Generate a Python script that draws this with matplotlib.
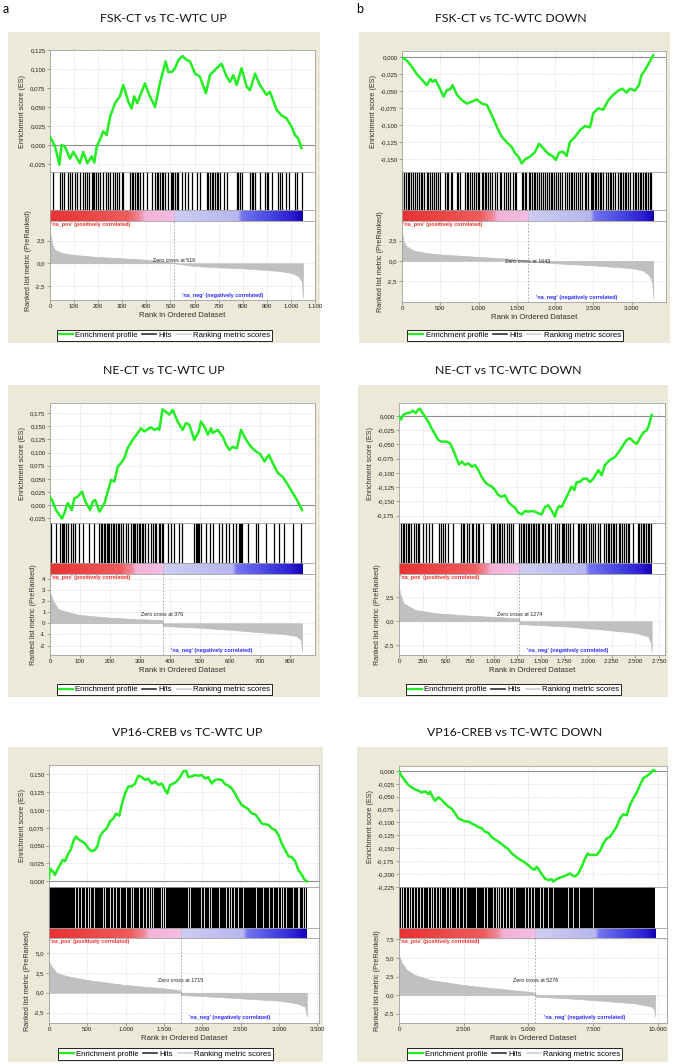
import numpy as np
import matplotlib
matplotlib.use('Agg')
import matplotlib.pyplot as plt
from matplotlib.colors import LinearSegmentedColormap
from matplotlib.lines import Line2D
from matplotlib.patches import Rectangle

plt.rcParams['font.family'] = ['Liberation Sans', 'DejaVu Sans']

# ---------------- data ----------------
titles = ['FSK-CT vs TC-WTC UP', 'FSK-CT vs TC-WTC DOWN',
          'NE-CT vs TC-WTC UP', 'NE-CT vs TC-WTC DOWN',
          'VP16-CREB vs TC-WTC UP', 'VP16-CREB vs TC-WTC DOWN']
n_genes = [1050, 3283, 842, 2673, 3361, 9897]
zero_cross = [516, 1643, 376, 1274, 1715, 5276]

# panel a: FSK-CT UP
a_es_x = [0, 21, 39, 48, 62, 83, 97, 124, 138, 155, 173, 184, 194, 207, 221, 235, 249, 270, 290, 304,
          325, 339, 349, 362, 394, 412, 436, 456, 480, 491, 505, 519, 533, 550, 567, 581, 602, 622, 647, 664,
          685, 712, 733, 747, 761, 775, 795, 816, 830, 851, 871, 899, 913, 941, 961, 982, 1003, 1017, 1030, 1044]
a_es_y = [0.011, -0.002, -0.026, 0.0, -0.002, -0.018, -0.009, -0.024, -0.009, -0.024,
          -0.015, -0.023, -0.002, 0.007, 0.018, 0.013, 0.037, 0.055, 0.064, 0.079,
          0.057, 0.048, 0.064, 0.055, 0.081, 0.066, 0.050, 0.081, 0.110, 0.096,
          0.096, 0.101, 0.112, 0.117, 0.112, 0.110, 0.094, 0.090, 0.068, 0.092,
          0.099, 0.107, 0.090, 0.083, 0.092, 0.079, 0.101, 0.077, 0.072, 0.094,
          0.079, 0.066, 0.070, 0.046, 0.039, 0.035, 0.024, 0.013, 0.009, -0.004]
a_hits = [14, 41, 48, 58, 76, 83, 90, 104, 113, 124, 138, 145, 152, 163, 173, 177, 184, 191, 198, 207,
          221, 232, 242, 249, 263, 270, 279, 288, 297, 304, 332, 339, 346, 353, 360, 367, 373, 387, 401, 422,
          436, 443, 450, 456, 463, 470, 477, 491, 501, 508, 512, 519, 526, 533, 546, 560, 574, 588, 609, 622,
          650, 657, 664, 671, 678, 685, 692, 698, 705, 722, 733, 775, 781, 788, 795, 830, 837, 844, 851, 871,
          892, 899, 906, 920, 947, 954, 965, 979, 993, 1017, 1024, 1044]
a_met_x = [0, 10, 20, 50, 80, 150, 200, 300, 400, 500, 516, 600, 700, 800, 900, 950, 1000, 1030, 1045, 1050]
a_met_y = [3.4, 2.0, 1.5, 1.15, 1.0, 0.8, 0.7, 0.55, 0.4, 0.15, 0.0, -0.3, -0.45, -0.55, -0.75, -0.85,
           -1.05, -1.4, -2.0, -3.8]

# panel b: FSK-CT DOWN
b_es_x = [0, 65, 130, 196, 261, 326, 370, 400, 435, 487, 543, 587, 630, 661, 717, 783, 848, 913, 978, 1043,
          1109, 1174, 1239, 1304, 1370, 1435, 1478, 1522, 1565, 1609, 1674, 1739, 1791, 1848, 1913, 1978,
          2009, 2052, 2109, 2152, 2196, 2261, 2326, 2391, 2457, 2500, 2565, 2630, 2696, 2761, 2826, 2878,
          2935, 2978, 3043, 3096, 3130, 3174, 3239, 3283]
b_es_y = [0.0, -0.005, -0.014, -0.025, -0.033, -0.041, -0.032, -0.036, -0.033, -0.044,
          -0.058, -0.048, -0.047, -0.041, -0.055, -0.063, -0.068, -0.065, -0.062, -0.068,
          -0.070, -0.085, -0.102, -0.117, -0.125, -0.132, -0.141, -0.146, -0.156, -0.150,
          -0.146, -0.139, -0.127, -0.134, -0.142, -0.146, -0.151, -0.140, -0.139, -0.145,
          -0.124, -0.117, -0.107, -0.101, -0.103, -0.082, -0.075, -0.077, -0.063, -0.055,
          -0.049, -0.046, -0.052, -0.046, -0.049, -0.041, -0.026, -0.019, -0.006, 0.003]
b_hits = [4, 30, 48, 74, 96, 117, 148, 170, 191, 222, 248, 265, 291, 322, 343, 365, 387, 422, 439, 465,
          496, 561, 583, 604, 639, 657, 717, 735, 757, 822, 843, 865, 887, 909, 935, 961, 987, 1009, 1039,
          1061, 1083, 1104, 1126, 1148, 1170, 1213, 1248, 1278, 1300, 1335, 1357, 1387, 1409, 1452, 1474,
          1496, 1570, 1583, 1604, 1626, 1657, 1674, 1700, 1726, 1743, 1770, 1787, 1813, 1843, 1865, 1891,
          1917, 1943, 1965, 1987, 2017, 2039, 2061, 2091, 2126, 2161, 2178, 2204, 2222, 2248, 2278, 2300,
          2322, 2352, 2387, 2409, 2430, 2465, 2483, 2496, 2517, 2539, 2561, 2583, 2604, 2626, 2670, 2691,
          2713, 2735, 2757, 2778, 2822, 2843, 2865, 2887, 2909, 2930, 2952, 2974, 3017, 3039, 3061, 3083,
          3104, 3126, 3148, 3170, 3191, 3213, 3235, 3257]
b_met_x = [0, 20, 60, 150, 300, 500, 1000, 1500, 1643, 1643, 2000, 2500, 3000, 3150, 3230, 3270, 3283]
b_met_y = [3.6, 2.4, 1.8, 1.3, 1.0, 0.8, 0.5, 0.2, 0.05, -0.05, -0.3, -0.55, -0.9, -1.2, -1.8, -2.6, -4.6]

# panel c: NE-CT UP
c_es_x = [0, 9, 20, 31, 40, 48, 59, 67, 73, 81, 92, 107, 118, 134, 143, 151, 165, 182, 193, 204,
          215, 226, 237, 248, 259, 276, 293, 304, 315, 326, 337, 349, 360, 365, 376, 385, 399, 410, 426, 443,
          454, 465, 482, 497, 504, 516, 527, 538, 543, 560, 577, 588, 599, 610, 624, 638, 655, 671, 688, 702,
          716, 731, 744, 761, 777, 791, 808, 822, 833, 842]
c_es_y = [0.016, 0.007, -0.009, -0.018, -0.025, -0.015, 0.004, -0.003, -0.009, 0.013,
          0.016, 0.026, 0.007, -0.009, 0.007, 0.010, -0.012, 0.004, 0.026, 0.048,
          0.045, 0.073, 0.080, 0.089, 0.108, 0.124, 0.137, 0.146, 0.140, 0.144,
          0.148, 0.143, 0.146, 0.143, 0.182, 0.178, 0.172, 0.181, 0.159, 0.143,
          0.156, 0.153, 0.124, 0.140, 0.159, 0.149, 0.134, 0.146, 0.137, 0.143,
          0.130, 0.115, 0.105, 0.111, 0.108, 0.143, 0.124, 0.111, 0.102, 0.097,
          0.083, 0.096, 0.080, 0.061, 0.054, 0.042, 0.026, 0.013, 0.001, -0.009]
c_hits = [3, 20, 35, 39, 42, 48, 53, 59, 70, 78, 85, 98, 109, 131, 148, 165, 170, 174, 182, 185,
          189, 193, 198, 204, 209, 215, 220, 226, 232, 237, 245, 254, 259, 271, 276, 282, 285, 290, 296, 301,
          307, 312, 318, 326, 337, 343, 349, 354, 365, 367, 373, 376, 393, 404, 415, 432, 441, 480, 486, 490,
          494, 499, 504, 521, 535, 543, 563, 575, 588, 599, 610, 621, 630, 635, 638, 641, 660, 688, 694, 722,
          749, 766, 783, 811, 839]
c_met_x = [0, 9, 26, 60, 98, 200, 298, 376, 376, 500, 610, 700, 777, 822, 838, 842]
c_met_y = [2.8, 2.1, 1.3, 1.0, 0.75, 0.5, 0.36, 0.3, -0.24, -0.4, -0.6, -0.8, -0.95, -1.13, -1.5, -2.5]

# panel d: NE-CT DOWN
d_es_x = [0, 21, 46, 81, 116, 152, 176, 205, 222, 247, 275, 310, 346, 381, 416, 451, 504, 540, 575, 610,
          635, 663, 698, 733, 769, 804, 839, 874, 910, 945, 980, 1016, 1051, 1086, 1121, 1157, 1192, 1227,
          1262, 1298, 1333, 1368, 1403, 1439, 1474, 1509, 1544, 1580, 1615, 1650, 1668, 1693, 1721, 1756,
          1791, 1826, 1855, 1879, 1915, 1950, 1985, 2020, 2056, 2109, 2144, 2179, 2232, 2285, 2338, 2373,
          2408, 2444, 2479, 2514, 2549, 2585, 2620, 2645, 2673]
d_es_y = [-0.001, -0.006, 0.002, 0.005, 0.006, 0.009, 0.005, 0.011, 0.013, 0.006,
          -0.001, -0.010, -0.022, -0.032, -0.042, -0.045, -0.045, -0.048, -0.060, -0.075,
          -0.085, -0.080, -0.086, -0.083, -0.089, -0.086, -0.095, -0.107, -0.116, -0.121,
          -0.124, -0.130, -0.139, -0.142, -0.139, -0.151, -0.157, -0.161, -0.170, -0.173,
          -0.167, -0.168, -0.167, -0.168, -0.171, -0.173, -0.160, -0.157, -0.166, -0.177,
          -0.166, -0.158, -0.160, -0.148, -0.136, -0.124, -0.130, -0.116, -0.116, -0.110,
          -0.110, -0.116, -0.110, -0.095, -0.104, -0.086, -0.077, -0.072, -0.060, -0.051,
          -0.042, -0.039, -0.045, -0.049, -0.039, -0.029, -0.025, -0.016, 0.002]
d_hits = [21, 39, 56, 74, 92, 109, 127, 162, 180, 197, 215, 250, 286, 321, 349, 427, 444, 462, 490, 515,
          575, 656, 673, 691, 716, 744, 772, 786, 815, 832, 850, 885, 973, 991, 1008, 1033, 1054, 1068,
          1090, 1114, 1139, 1160, 1185, 1202, 1273, 1291, 1308, 1326, 1343, 1361, 1379, 1396, 1414, 1432,
          1449, 1467, 1484, 1509, 1527, 1548, 1573, 1590, 1608, 1654, 1668, 1696, 1724, 1738, 1749, 1767,
          1784, 1809, 1837, 1890, 1908, 1925, 1943, 1961, 1978, 2006, 2031, 2056, 2077, 2102, 2126, 2172,
          2190, 2208, 2225, 2243, 2260, 2278, 2296, 2324, 2338, 2359, 2384, 2401, 2419, 2437, 2472, 2525,
          2542, 2560, 2578, 2595, 2613, 2630, 2648, 2666]
d_met_x = [0, 10, 46, 169, 381, 733, 1086, 1274, 1274, 1791, 2144, 2497, 2637, 2666, 2673]
d_met_y = [3.66, 2.96, 1.9, 1.2, 0.85, 0.6, 0.42, 0.3, -0.28, -0.56, -0.85, -1.2, -1.6, -2.3, -3.2]

# panel e: VP16-CREB UP (hits nearly solid, so the white gaps are listed)
e_es_x = [0, 13, 48, 78, 109, 143, 178, 209, 252, 283, 317, 352, 383, 426, 470, 513, 557, 600, 630, 665,
          709, 752, 796, 839, 874, 917, 948, 991, 1035, 1078, 1122, 1165, 1209, 1252, 1296, 1339, 1383,
          1426, 1470, 1513, 1543, 1578, 1622, 1665, 1709, 1752, 1787, 1817, 1861, 1904, 1948, 1991, 2035,
          2078, 2122, 2165, 2209, 2252, 2296, 2339, 2383, 2426, 2470, 2513, 2557, 2600, 2643, 2687, 2730,
          2774, 2817, 2861, 2904, 2948, 2991, 3035, 3078, 3122, 3165, 3209, 3252, 3296, 3326, 3361]
e_es_y = [0.004, 0.018, 0.014, 0.009, 0.016, 0.023, 0.030, 0.028, 0.039, 0.044,
          0.056, 0.063, 0.059, 0.056, 0.053, 0.046, 0.042, 0.044, 0.049, 0.063,
          0.070, 0.074, 0.084, 0.088, 0.095, 0.092, 0.107, 0.123, 0.133, 0.133,
          0.137, 0.148, 0.146, 0.142, 0.144, 0.137, 0.140, 0.135, 0.137, 0.128,
          0.123, 0.135, 0.137, 0.140, 0.146, 0.154, 0.155, 0.146, 0.147, 0.149,
          0.148, 0.149, 0.144, 0.146, 0.137, 0.142, 0.143, 0.142, 0.136, 0.134,
          0.130, 0.123, 0.114, 0.107, 0.104, 0.101, 0.095, 0.094, 0.088, 0.081,
          0.080, 0.079, 0.074, 0.072, 0.065, 0.053, 0.044, 0.035, 0.034, 0.028,
          0.016, 0.009, 0.003, 0.000]
e_gaps = [343, 374, 417, 474, 504, 539, 591, 700, 735, 800, 830, 874, 926, 1004, 1070, 1100, 1178, 1222,
          1265, 1300, 1330, 1361, 1461, 1483, 1517, 1809, 1839, 1983, 2026, 2083, 2113, 2222, 2309, 2343,
          2374, 2417, 2461, 2526, 2700, 2787, 2874, 2917, 2983, 3026, 3057, 3091, 3178, 3243, 3265, 3317,
          3343]
e_met_x = [0, 35, 100, 230, 500, 1000, 1500, 1715, 1715, 2000, 2500, 3000, 3230, 3339, 3361]
e_met_y = [3.9, 3.3, 2.5, 2.1, 1.6, 0.97, 0.55, 0.3, -0.3, -0.42, -0.71, -1.0, -1.34, -1.76, -3.0]

# panel f: VP16-CREB DOWN
f_es_x = [0, 103, 232, 361, 490, 619, 747, 876, 941, 1031, 1134, 1198, 1289, 1392, 1521, 1649, 1778,
          1907, 2036, 2165, 2294, 2423, 2552, 2680, 2809, 2938, 3067, 3196, 3325, 3454, 3582, 3711, 3840,
          3969, 4098, 4227, 4356, 4485, 4613, 4742, 4871, 5000, 5129, 5232, 5322, 5412, 5515, 5644, 5773,
          5902, 5966, 6095, 6224, 6353, 6482, 6611, 6675, 6804, 6933, 7062, 7191, 7294, 7384, 7513, 7642,
          7771, 7899, 8028, 8157, 8286, 8415, 8544, 8673, 8802, 8930, 9059, 9188, 9317, 9446, 9575, 9704,
          9833, 9897]
f_es_y = [0.0, -0.010, -0.019, -0.027, -0.032, -0.036, -0.038, -0.042, -0.040, -0.040,
          -0.045, -0.040, -0.049, -0.058, -0.051, -0.056, -0.063, -0.069, -0.073, -0.082,
          -0.092, -0.095, -0.098, -0.098, -0.102, -0.105, -0.109, -0.111, -0.118, -0.120,
          -0.128, -0.133, -0.137, -0.142, -0.147, -0.152, -0.160, -0.165, -0.170, -0.174,
          -0.178, -0.183, -0.189, -0.192, -0.186, -0.192, -0.200, -0.209, -0.212, -0.210,
          -0.215, -0.210, -0.207, -0.205, -0.202, -0.199, -0.202, -0.205, -0.199, -0.186,
          -0.170, -0.160, -0.163, -0.163, -0.163, -0.155, -0.141, -0.131, -0.128, -0.118,
          -0.108, -0.092, -0.084, -0.086, -0.066, -0.053, -0.042, -0.027, -0.014, -0.010,
          -0.005, 0.002, 0.000]
f_gaps = [77, 168, 271, 374, 464, 593, 683, 812, 915, 1108, 1237, 1327, 1430, 1559, 1624, 1817, 1920,
          2010, 2204, 2332, 2461, 2590, 2977, 3299, 3389, 3621, 3750, 3814, 3905, 4008, 4137, 4265, 4394,
          4472, 4884, 4974, 5103, 5232, 5451, 5554, 5747, 5941, 6521, 6714, 6972, 7487]
f_met_x = [0, 103, 296, 619, 1263, 2500, 3711, 5000, 5276, 5276, 6546, 7835, 9124, 9768, 9871, 9897]
f_met_y = [5.4, 4.4, 3.4, 2.7, 2.0, 1.35, 0.9, 0.45, 0.3, -0.22, -0.45, -0.77, -1.13, -1.58, -2.0, -2.9]

# axis ranges / ticks
x_max = [1100, 3450, 885, 2814, 3520, 10360]
x_ticks = [list(range(0, 1101, 100)), list(range(0, 3001, 500)), list(range(0, 801, 100)),
           list(range(0, 2751, 250)), list(range(0, 3501, 500)), list(range(0, 10001, 2500))]
es_lim = [(-0.0355, 0.125), (-0.1686, 0.0093), (-0.0336, 0.194), (-0.188, 0.0229), (-0.008, 0.163),
          (-0.2253, 0.0097)]
es_ticks = [[-0.025, 0, 0.025, 0.05, 0.075, 0.1, 0.125],
            [-0.15, -0.125, -0.1, -0.075, -0.05, -0.025, 0],
            [-0.025, 0, 0.025, 0.05, 0.075, 0.1, 0.125, 0.15, 0.175],
            [-0.175, -0.15, -0.125, -0.1, -0.075, -0.05, -0.025, 0],
            [0, 0.025, 0.05, 0.075, 0.1, 0.125, 0.15],
            [-0.225, -0.2, -0.175, -0.15, -0.125, -0.1, -0.075, -0.05, -0.025, 0]]
met_lim = [(-4.06, 4.68), (-5.1, 4.95), (-2.84, 4.41), (-3.53, 4.95), (-3.82, 6.9), (-3.78, 7.7)]
met_ticks = [[-2.5, 0, 2.5], [-2.5, 0, 2.5], [-2, -1, 0, 1, 2, 3, 4], [-2.5, 0, 2.5],
             [-2.5, 0, 2.5, 5], [-2.5, 0, 2.5, 5, 7.5]]
met_dec = [1, 1, 0, 1, 1, 1]

es_x = [a_es_x, b_es_x, c_es_x, d_es_x, e_es_x, f_es_x]
es_y = [a_es_y, b_es_y, c_es_y, d_es_y, e_es_y, f_es_y]
hits = [a_hits, b_hits, c_hits, d_hits, None, None]
gaps = [None, None, None, None, e_gaps, f_gaps]
met_x = [a_met_x, b_met_x, c_met_x, d_met_x, e_met_x, f_met_x]
met_y = [a_met_y, b_met_y, c_met_y, d_met_y, e_met_y, f_met_y]

# ---------------- layout (pixels) ----------------
W, H = 675, 1064
layout = [
    dict(bg=(8, 32, 320, 343), x=(50, 315), y=(50, 172, 210, 221, 300), title=(163, 18), leg=(164.5, 335.5)),
    dict(bg=(359, 32, 670, 343), x=(402, 666), y=(51, 172, 210, 221, 302), title=(511, 18), leg=(515, 335.5)),
    dict(bg=(8, 385, 320, 697), x=(50, 315), y=(403, 523, 563, 574, 655), title=(164, 371), leg=(164.5, 689.5)),
    dict(bg=(358, 385, 668, 697), x=(399, 665), y=(403, 523, 563, 574, 655), title=(508, 371), leg=(513.5, 689.5)),
    dict(bg=(8, 747, 323, 1062), x=(49, 319), y=(765, 887, 928, 938, 1023), title=(187, 733), leg=(165.5, 1054)),
    dict(bg=(357, 747, 668, 1062), x=(399, 667), y=(766, 887, 928, 938, 1023), title=(515, 733), leg=(514.5, 1054)),
]

BEIGE = '#ece9d8'
GREEN = '#22ee22'
FRAME = '#a0a0a0'
GRID = '#c8c8c8'


def box(x0, y0, x1, y1):
    return [x0 / W, 1 - y1 / H, (x1 - x0) / W, (y1 - y0) / H]


def eu(v, nd):
    s = f"{v:,.{nd}f}"
    if s.startswith('-') and float(s[1:].replace(',', '')) == 0:
        s = s[1:]
    return s.replace(',', 'X').replace('.', ',').replace('X', '.')


def bar_cmap(z):
    r = 1 - z
    nodes = [(0.0, '#e83232'), (0.62 * z, '#f05c5c'), (0.72 * z, '#f08a9c'), (0.76 * z, '#f4b2d6'),
             (z, '#f2bde4'), (z + 0.004, '#cdcdf3'), (z + 0.5 * r, '#b6b6f0'), (z + 0.53 * r, '#7474f2'),
             (z + 0.75 * r, '#4646e2'), (z + 0.93 * r, '#2a1ad0'), (1.0, '#1400b0')]
    return LinearSegmentedColormap.from_list('gsea', nodes)


def style_ax(ax):
    for s in ax.spines.values():
        s.set_color(FRAME)
        s.set_linewidth(0.6)
    ax.tick_params(labelsize=4.4, length=2, width=0.5, color='#808080', pad=1.2, labelcolor='#202020')


fig = plt.figure(figsize=(W / 100, H / 100), dpi=100)

for i in range(6):
    L = layout[i]
    x0, x1 = L['x']
    y0, y1, y2, y3, y4 = L['y']
    n = n_genes[i]
    zc = zero_cross[i]

    bx0, by0, bx1, by1 = L['bg']
    fig.add_artist(Rectangle((bx0 / W, 1 - by1 / H), (bx1 - bx0) / W, (by1 - by0) / H,
                             transform=fig.transFigure, facecolor=BEIGE, edgecolor='none', zorder=-5))
    fig.text(L['title'][0] / W, 1 - L['title'][1] / H, titles[i], ha='center', va='center',
             fontsize=8.8, family=['Lato', 'DejaVu Sans'], color='#111111')

    # enrichment score
    ax = fig.add_axes(box(x0, y0, x1, y1))
    style_ax(ax)
    ax.plot(es_x[i], es_y[i], color=GREEN, lw=1.8, zorder=3)
    ax.axhline(0, color='#909090', lw=0.8, zorder=2)
    ax.set_xlim(0, x_max[i])
    ax.set_ylim(*es_lim[i])
    ax.set_xticks(x_ticks[i])
    ax.set_yticks(es_ticks[i])
    ax.set_yticklabels([eu(v, 3) for v in es_ticks[i]])
    ax.tick_params(axis='x', length=0, labelbottom=False)
    ax.grid(True, ls=':', color=GRID, lw=0.5)
    ax.set_ylabel('Enrichment score (ES)', fontsize=5.2, labelpad=2, color='#303030')

    # hits
    axh = fig.add_axes(box(x0, y1, x1, y2))
    style_ax(axh)
    if hits[i] is not None:
        axh.vlines(hits[i], 0, 1, color='black', lw=0.9)
    else:
        axh.axvspan(0, n, color='black', lw=0)
        axh.vlines(gaps[i], 0, 1, color='white', lw=0.6)
    axh.set_xlim(0, x_max[i])
    axh.set_ylim(0, 1)
    axh.set_xticks([])
    axh.set_yticks([])

    # colour strip
    axc = fig.add_axes(box(x0, y2, x1, y3))
    style_ax(axc)
    axc.imshow(np.linspace(0, 1, 600)[None, :], cmap=bar_cmap(zc / n), aspect='auto',
               extent=(0, n, 0, 1), interpolation='bilinear')
    axc.axvline(zc, color='#b0b0b0', lw=0.6, ls=(0, (2, 2)))
    axc.set_xlim(0, x_max[i])
    axc.set_ylim(0, 1)
    axc.set_xticks([])
    axc.set_yticks([])

    # ranked list metric
    axm = fig.add_axes(box(x0, y3, x1, y4))
    style_ax(axm)
    axm.fill_between(met_x[i], 0, met_y[i], color='#c0c0c0', lw=0.4, edgecolor='#b8b8b8', zorder=2)
    axm.axvline(zc, color='#a0a0a0', lw=0.6, ls=(0, (2, 2)), zorder=3)
    axm.set_xlim(0, x_max[i])
    axm.set_ylim(*met_lim[i])
    axm.set_xticks(x_ticks[i])
    axm.set_xticklabels([eu(v, 0) for v in x_ticks[i]])
    axm.set_yticks(met_ticks[i])
    axm.set_yticklabels([eu(v, met_dec[i]) for v in met_ticks[i]])
    axm.grid(True, ls=':', color=GRID, lw=0.5)
    axm.set_xlabel('Rank in Ordered Dataset', fontsize=5.6, labelpad=1.5, color='#303030')
    axm.set_ylabel('Ranked list metric (PreRanked)', fontsize=5.2, labelpad=2, color='#303030')
    axm.text(0.004, 0.985, "'na_pos' (positively correlated)", transform=axm.transAxes, ha='left',
             va='top', fontsize=3.9, fontweight='bold', color='#ff2a2a')
    axm.text(zc / x_max[i] + 0.03, 0.03, "'na_neg' (negatively correlated)", transform=axm.transAxes,
             ha='left', va='bottom', fontsize=3.9, fontweight='bold', color='#2a2aff')
    axm.text(zc, sum(met_lim[i]) / 2, f'Zero cross at {zc}', ha='center', va='center',
             fontsize=3.9, color='#202020', zorder=4)

    handles = [Line2D([], [], color=GREEN, lw=1.6), Line2D([], [], color='#303030', lw=1.2),
               Line2D([], [], color='#d0d0d0', lw=1.2)]
    leg = fig.legend(handles, ['Enrichment profile', 'Hits', 'Ranking metric scores'], loc='center',
                     bbox_to_anchor=(L['leg'][0] / W, 1 - L['leg'][1] / H), ncol=3, fontsize=5.6,
                     frameon=True, fancybox=False, edgecolor='black', framealpha=1, borderpad=0.25,
                     handlelength=1.8, handletextpad=0.3, columnspacing=0.6)
    leg.get_frame().set_linewidth(0.6)

fig.text(3 / W, 1 - 9 / H, 'a', fontsize=9, va='center', ha='left', family=['Lato', 'DejaVu Sans'])
fig.text(356 / W, 1 - 9 / H, 'b', fontsize=9, va='center', ha='left', family=['Lato', 'DejaVu Sans'])

fig.savefig('out.png', dpi=100, facecolor='white')
